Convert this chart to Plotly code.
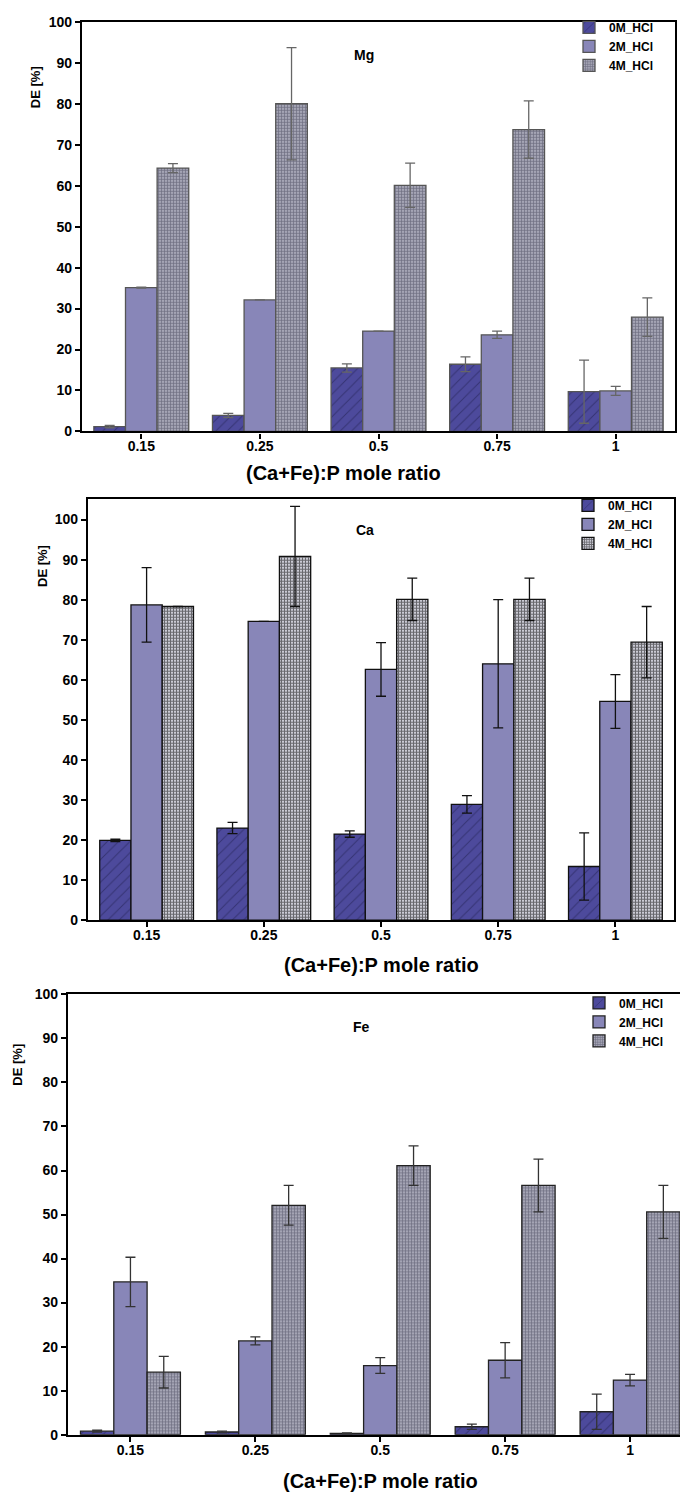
import plotly.graph_objects as go

W, H = 680, 1504

ratios = ["0.15", "0.25", "0.5", "0.75", "1"]
series_names = ["0M_HCl", "2M_HCl", "4M_HCl"]

# Mg dissolution efficiency (%) and errors
mg_0m = [1.2, 3.9, 15.5, 16.4, 9.7]
mg_0m_err = [0.3, 0.5, 1.0, 1.8, 7.7]
mg_2m = [35.1, 32.1, 24.5, 23.6, 9.9]
mg_2m_err = [0.1, 0.0, 0.0, 0.9, 1.1]
mg_4m = [64.3, 80.0, 60.1, 73.7, 27.9]
mg_4m_err = [1.1, 13.7, 5.4, 7.0, 4.7]

# Ca dissolution efficiency (%) and errors
ca_0m = [19.9, 23.0, 21.5, 28.9, 13.4]
ca_0m_err = [0.3, 1.4, 0.8, 2.2, 8.4]
ca_2m = [78.7, 74.6, 62.6, 64.0, 54.6]
ca_2m_err = [9.3, 0.0, 6.7, 16.0, 6.7]
ca_4m = [78.3, 90.8, 80.1, 80.1, 69.4]
ca_4m_err = [0.0, 12.5, 5.3, 5.3, 8.9]

# Fe dissolution efficiency (%) and errors
fe_0m = [0.8, 0.6, 0.3, 1.8, 5.2]
fe_0m_err = [0.2, 0.2, 0.1, 0.6, 4.0]
fe_2m = [34.7, 21.3, 15.7, 16.9, 12.4]
fe_2m_err = [5.6, 0.9, 1.8, 4.0, 1.3]
fe_4m = [14.2, 52.1, 61.1, 56.6, 50.6]
fe_4m_err = [3.6, 4.5, 4.5, 6.0, 6.0]

FONT = "Liberation Sans, Arial, sans-serif"


def px_x(p):
    return p / W


def px_y(p):
    return 1 - p / H


panels = [
    dict(name="Mg", values=[mg_0m, mg_2m, mg_4m], errors=[mg_0m_err, mg_2m_err, mg_4m_err],
         left=82, right=675, top=14, bottom=428, ymax=100, xmax=4.5,
         line="#555555", err="#666666", grid_fg="#33334a", grid_bg="#a4a4b4",
         grid_sol=0.4,
         label_xy=(364, 47), ytitle_xy=(35, 80), xtitle_xy=(343, 470),
         legend_xy=(569, 5), mirror_y=True),
    dict(name="Ca", values=[ca_0m, ca_2m, ca_4m], errors=[ca_0m_err, ca_2m_err, ca_4m_err],
         left=88, right=674, top=496, bottom=922, ymax=105.2, xmax=4.5,
         line="#111111", err="#111111", grid_fg="#000000", grid_bg="#d0d0da",
         grid_sol=0.6,
         label_xy=(365, 528), ytitle_xy=(42, 564), xtitle_xy=(381, 967),
         legend_xy=(568, 488), mirror_y=True),
    dict(name="Fe", values=[fe_0m, fe_2m, fe_4m], errors=[fe_0m_err, fe_2m_err, fe_4m_err],
         left=68, right=680, top=997, bottom=1442, ymax=100, xmax=4.4,
         line="#222222", err="#333333", grid_fg="#33334a", grid_bg="#a4a4b4",
         grid_sol=0.4,
         label_xy=(361, 1030), ytitle_xy=(18, 1068), xtitle_xy=(380, 1489),
         legend_xy=(579, 991), mirror_y=False),
]

fig = go.Figure()
layout = dict(
    width=W, height=H, margin=dict(l=0, r=0, t=0, b=0),
    paper_bgcolor="white", plot_bgcolor="white",
    barmode="group", bargap=0.2, bargroupgap=0.0,
    font=dict(family=FONT, color="black"),
    annotations=[],
)

for i, p in enumerate(panels):
    n = "" if i == 0 else str(i + 1)
    xa, ya, lg = "x" + n, "y" + n, "legend" + n
    for k, (vals, errs) in enumerate(zip(p["values"], p["errors"])):
        if k == 0:
            marker = dict(color="#4d4a9c",
                          pattern=dict(shape="/", fgcolor="#1e1c4a", bgcolor="#4d4a9c",
                                       size=8, solidity=0.12, fillmode="overlay"))
        elif k == 1:
            marker = dict(color="#8886b8")
        else:
            marker = dict(color=p["grid_bg"],
                          pattern=dict(shape="+", fgcolor=p["grid_fg"], bgcolor=p["grid_bg"],
                                       size=3, solidity=p["grid_sol"], fillmode="overlay"))
        marker["line"] = dict(color=p["line"], width=1.3)
        fig.add_trace(go.Bar(
            x=ratios, y=vals, name=series_names[k], marker=marker,
            error_y=dict(type="data", array=errs, visible=True,
                         color=p["err"], thickness=1.3, width=5),
            xaxis=xa, yaxis=ya, legend=lg,
        ))

    axis_font = dict(family=FONT, size=14, color="black", weight="bold")
    layout["xaxis" + n] = dict(
        domain=[px_x(p["left"]), px_x(p["right"])], anchor=ya,
        type="category", range=[-0.5, p["xmax"]],
        showline=True, linecolor="black", linewidth=2.2, mirror=True,
        ticks="outside", ticklen=5, tickwidth=2, tickcolor="black",
        ticklabelstandoff=-4,
        tickfont=axis_font, showgrid=False, zeroline=False, fixedrange=True,
    )
    layout["yaxis" + n] = dict(
        domain=[px_y(p["bottom"]), px_y(p["top"])], anchor=xa,
        range=[0, p["ymax"]], tickmode="array", tickvals=list(range(0, 101, 10)),
        showline=True, linecolor="black", linewidth=2.2, mirror=p["mirror_y"],
        ticks="outside", ticklen=5, tickwidth=2, tickcolor="black",
        tickfont=axis_font, showgrid=False, zeroline=False, fixedrange=True,
    )
    layout[lg] = dict(
        x=px_x(p["legend_xy"][0]), y=px_y(p["legend_xy"][1]),
        xanchor="left", yanchor="top", bgcolor="rgba(0,0,0,0)",
        font=dict(family=FONT, size=12, color="black", weight="bold"),
        tracegroupgap=0, itemclick=False, itemdoubleclick=False,
    )
    ann = layout["annotations"]
    common = dict(xref="paper", yref="paper", showarrow=False,
                  xanchor="center", yanchor="middle")
    ann.append(dict(text=p["name"], x=px_x(p["label_xy"][0]), y=px_y(p["label_xy"][1]),
                    font=dict(family=FONT, size=14, color="black", weight="bold"), **common))
    ann.append(dict(text="DE [%]", x=px_x(p["ytitle_xy"][0]), y=px_y(p["ytitle_xy"][1]),
                    textangle=-90,
                    font=dict(family=FONT, size=13, color="black", weight="bold"), **common))
    ann.append(dict(text="(Ca+Fe):P mole ratio", x=px_x(p["xtitle_xy"][0]),
                    y=px_y(p["xtitle_xy"][1]),
                    font=dict(family=FONT, size=20, color="black", weight="bold"), **common))

fig.update_layout(**layout)
fig.write_html("out.html")
